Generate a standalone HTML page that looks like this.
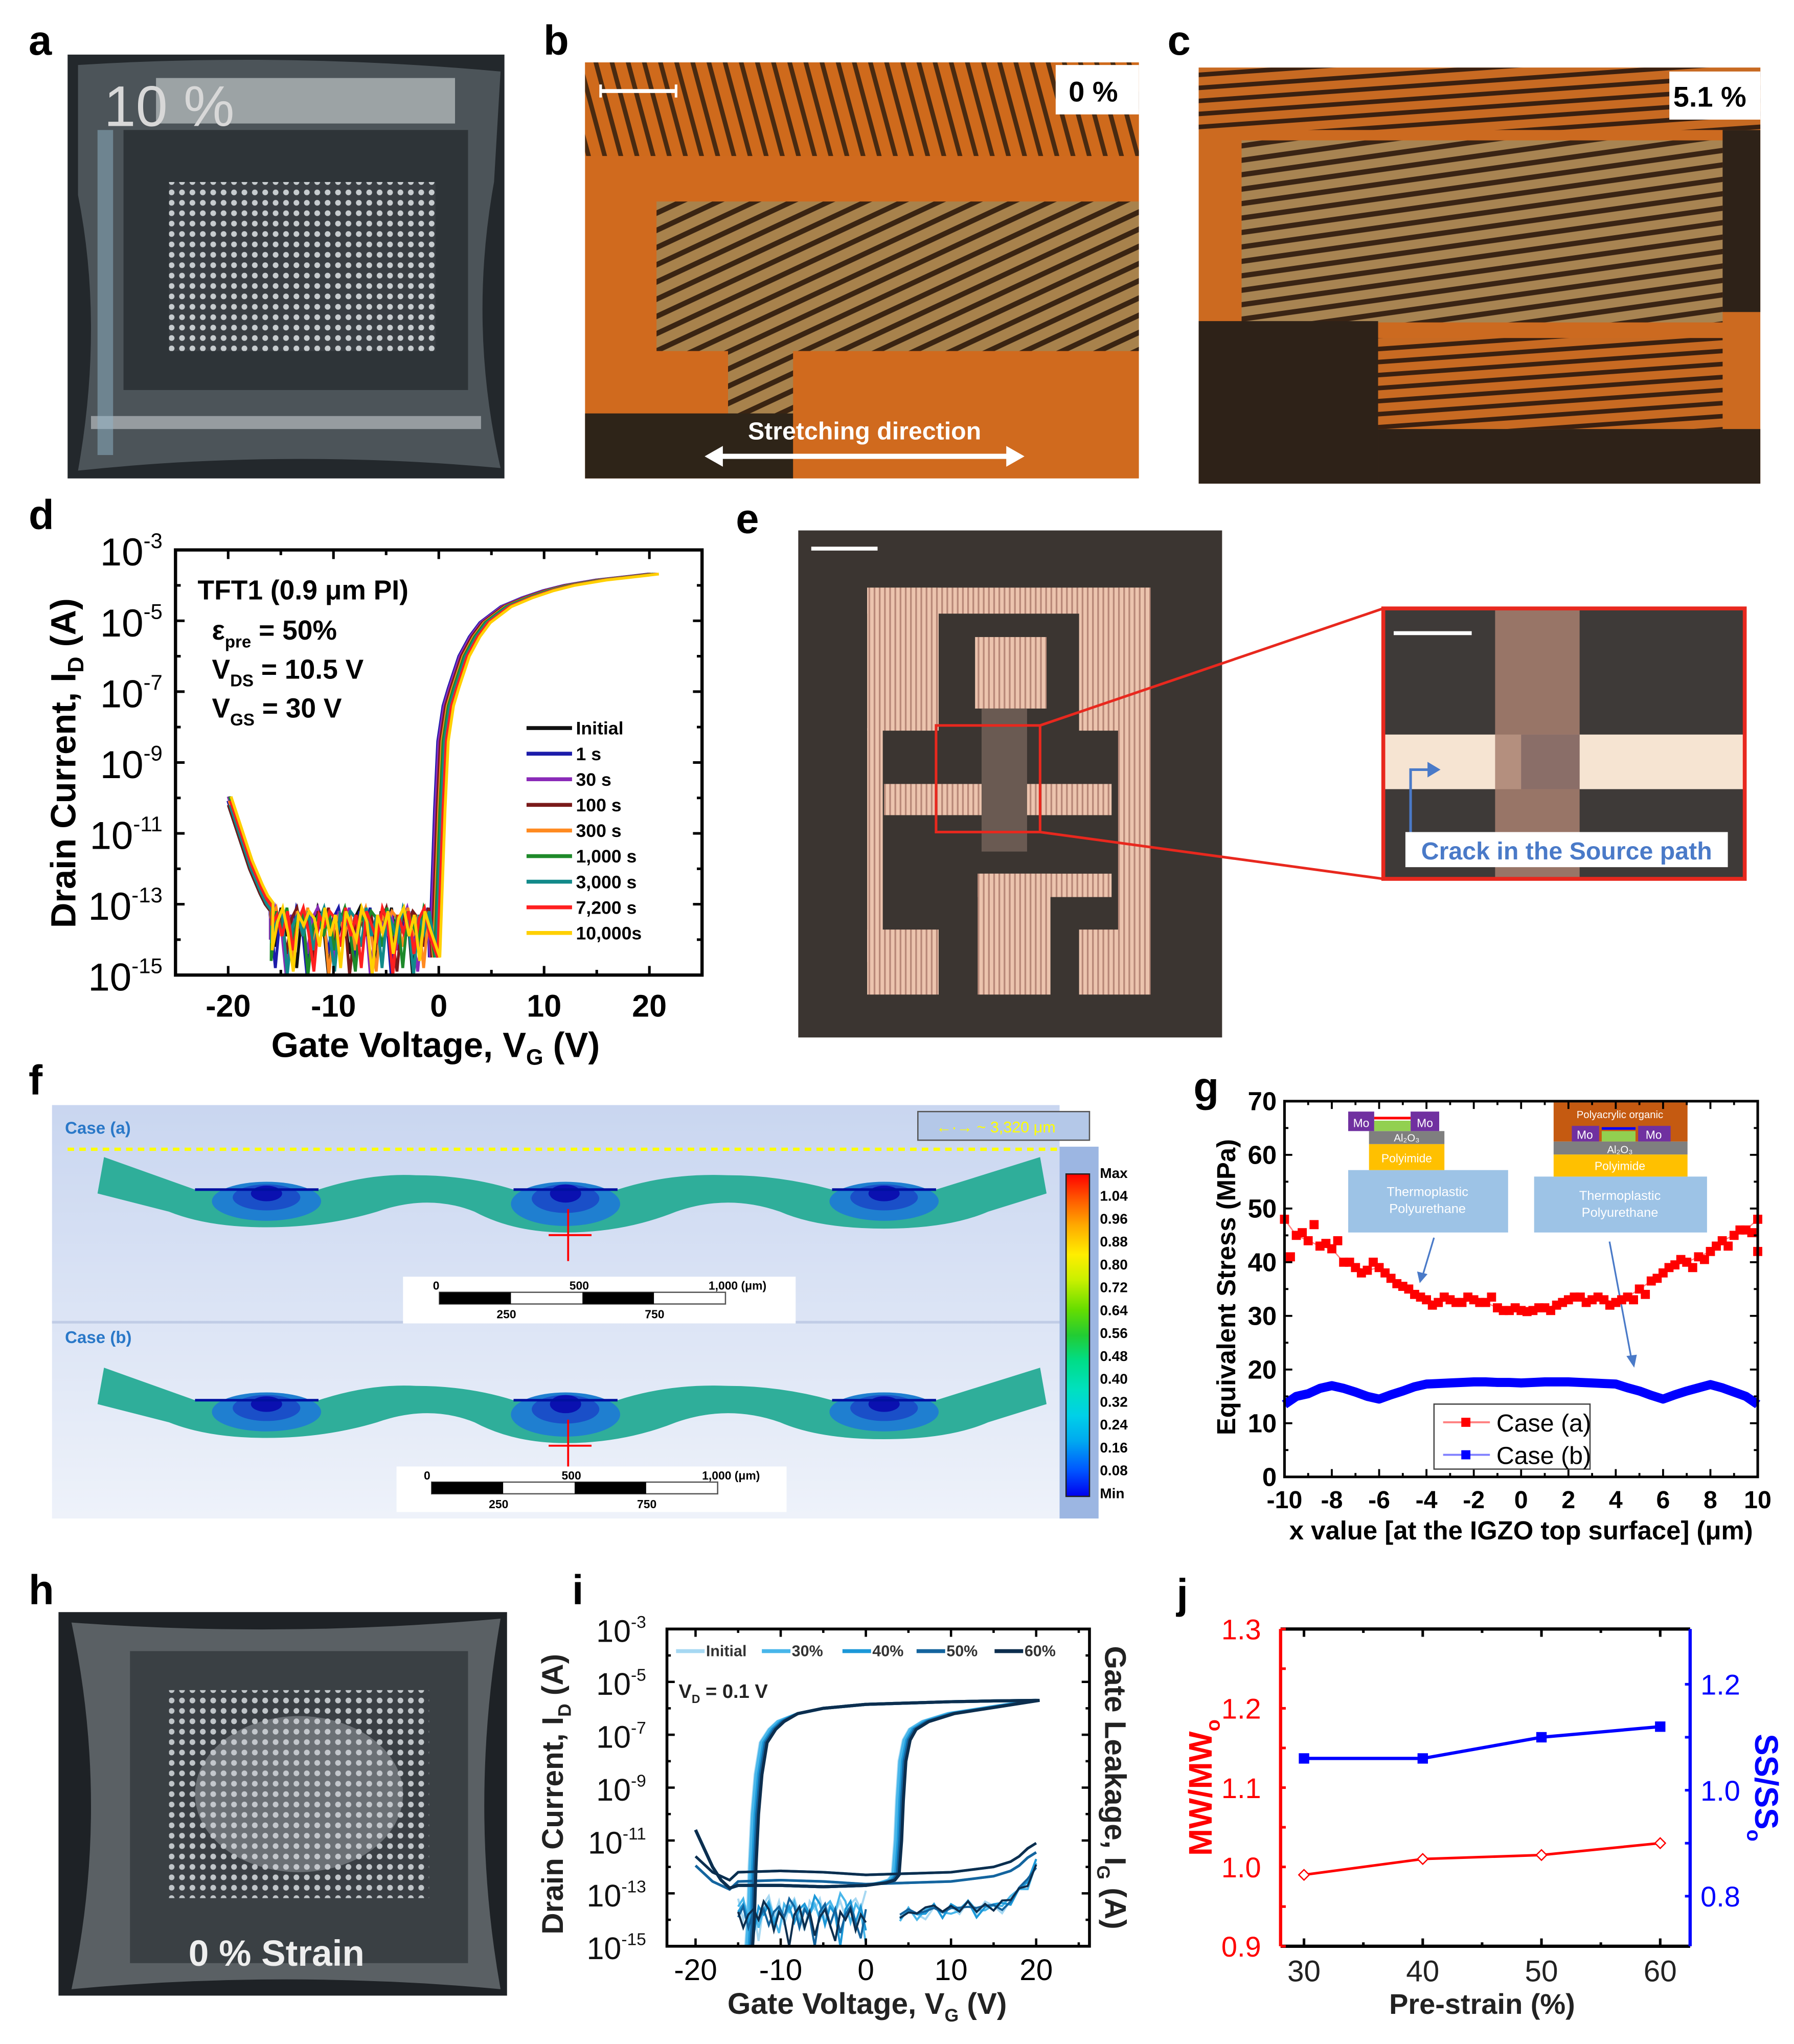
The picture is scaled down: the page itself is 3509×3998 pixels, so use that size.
<!DOCTYPE html>
<html><head><meta charset="utf-8"><style>
html,body{margin:0;padding:0;background:#fff;}
svg{display:block;font-family:"Liberation Sans",Arial,sans-serif;}
</style></head><body>
<svg id="fig" width="3509" height="3998" viewBox="0 0 1379.9 1572.2" preserveAspectRatio="none" xmlns="http://www.w3.org/2000/svg">
<defs>
<pattern id="gridPat" width="8" height="8" patternUnits="userSpaceOnUse"><rect width="8" height="8" fill="#3a3f44"/><circle cx="4" cy="4" r="2.2" fill="#d8dde0"/></pattern>
<pattern id="stripeB" width="12" height="12" patternUnits="userSpaceOnUse" patternTransform="rotate(-25)"><rect width="12" height="12" fill="#a8824c"/><rect y="0" width="12" height="4" fill="#3a2412"/></pattern>
<pattern id="stripeO" width="12" height="12" patternUnits="userSpaceOnUse" patternTransform="rotate(75)"><rect width="12" height="12" fill="#cf6a1c"/><rect width="12" height="3.5" fill="#4a2a10"/></pattern>
<pattern id="stripeC" width="12" height="11" patternUnits="userSpaceOnUse" patternTransform="rotate(-8)"><rect width="12" height="11" fill="#a88452"/><rect width="12" height="4" fill="#3a2414"/></pattern>
<pattern id="stripeC2" width="12" height="10" patternUnits="userSpaceOnUse" patternTransform="rotate(-4)"><rect width="12" height="10" fill="#c86a22"/><rect width="12" height="3.5" fill="#3a2010"/></pattern>
<pattern id="copper" width="4" height="4" patternUnits="userSpaceOnUse"><rect width="4" height="4" fill="#ecc4ae"/><rect width="1.3" height="4" fill="#b88878"/></pattern>
<linearGradient id="fbg" x1="0" y1="0" x2="0" y2="1"><stop offset="0" stop-color="#c9d6f0"/><stop offset="1" stop-color="#eef2fa"/></linearGradient>
<linearGradient id="cbar" x1="0" y1="0" x2="0" y2="1">
<stop offset="0" stop-color="#ff0000"/><stop offset="0.08" stop-color="#ff5a00"/><stop offset="0.16" stop-color="#ffaa00"/><stop offset="0.25" stop-color="#ffee00"/><stop offset="0.33" stop-color="#c8f000"/><stop offset="0.42" stop-color="#66dd00"/><stop offset="0.5" stop-color="#22cc33"/><stop offset="0.58" stop-color="#00dd88"/><stop offset="0.67" stop-color="#00e0c0"/><stop offset="0.75" stop-color="#00d0e8"/><stop offset="0.83" stop-color="#00a8f0"/><stop offset="0.92" stop-color="#0055ff"/><stop offset="1" stop-color="#0000ee"/></linearGradient>
</defs>

<g font-weight="bold" font-size="32" fill="#000">
<text x="22" y="42">a</text>
<text x="418" y="42">b</text>
<text x="898" y="42">c</text>
<text x="22" y="407">d</text>
<text x="566" y="410">e</text>
<text x="22" y="842">f</text>
<text x="918" y="847">g</text>
<text x="22" y="1234">h</text>
<text x="440" y="1234">i</text>
<text x="905" y="1237">j</text>
</g>

<g>
<rect x="52" y="42" width="336" height="326" fill="#23282c"/>
<path d="M60,50 Q220,40 385,55 L380,140 Q360,250 385,360 Q220,345 60,362 Q80,250 60,150 Z" fill="#4c5459"/>
<path d="M95,100 L360,100 L360,300 L95,300 Z" fill="#2e3438"/>
<rect x="130" y="140" width="205" height="130" fill="url(#gridPat)" opacity="0.9"/>
<rect x="120" y="60" width="230" height="35" fill="#bfc4c6" opacity="0.7"/>
<rect x="70" y="320" width="300" height="10" fill="#c8cdd0" opacity="0.6"/>
<rect x="75" y="100" width="12" height="250" fill="#8fb4c8" opacity="0.5"/>
<text x="80" y="97" font-size="44" fill="#d8d8d8">10 %</text>
</g>

<g>
<rect x="450" y="48" width="426" height="320" fill="#d06a1e"/>
<rect x="450" y="48" width="426" height="72" fill="url(#stripeO)"/>
<rect x="505" y="155" width="371" height="115" fill="url(#stripeB)"/>
<rect x="560" y="270" width="50" height="50" fill="url(#stripeB)"/>
<rect x="450" y="318" width="160" height="50" fill="#2e2418"/>
<rect x="812" y="50" width="64" height="38" fill="#fff"/>
<text x="822" y="78" font-size="22" font-weight="bold">0 %</text>
<line x1="462" y1="70" x2="520" y2="70" stroke="#fff" stroke-width="3"/>
<line x1="462" y1="65" x2="462" y2="75" stroke="#fff" stroke-width="2"/><line x1="520" y1="65" x2="520" y2="75" stroke="#fff" stroke-width="2"/>
<text x="665" y="338" font-size="19" font-weight="bold" fill="#fff" text-anchor="middle">Stretching direction</text>
<line x1="552" y1="351" x2="778" y2="351" stroke="#fff" stroke-width="4"/>
<path d="M542,351 L556,343 L556,359 Z M788,351 L774,343 L774,359 Z" fill="#fff"/>
</g>

<g>
<rect x="922" y="52" width="432" height="320" fill="#cc6a20"/>
<rect x="922" y="52" width="432" height="48" fill="url(#stripeC2)"/>
<rect x="955" y="108" width="370" height="140" fill="url(#stripeC)"/>
<rect x="1325" y="100" width="29" height="140" fill="#2e2218"/>
<rect x="922" y="247" width="138" height="125" fill="#2e2218"/>
<rect x="1060" y="260" width="265" height="70" fill="url(#stripeC2)"/>
<rect x="1060" y="330" width="294" height="42" fill="#2e2218"/>
<rect x="1284" y="55" width="70" height="37" fill="#fff"/>
<text x="1287" y="82" font-size="22" font-weight="bold">5.1 %</text>
</g>

<g>
<rect x="614" y="408" width="326" height="390" fill="#3b3531"/>
<g fill="url(#copper)">
<rect x="667" y="452" width="218" height="20"/>
<rect x="667" y="452" width="55" height="110"/>
<rect x="860" y="452" width="25" height="290"/>
<rect x="830" y="452" width="55" height="110"/>
<rect x="750" y="490" width="55" height="55"/>
<rect x="680" y="603" width="175" height="24"/>
<rect x="667" y="560" width="12" height="180"/>
<rect x="667" y="715" width="55" height="50"/>
<rect x="752" y="672" width="103" height="18"/>
<rect x="752" y="672" width="56" height="93"/>
<rect x="830" y="715" width="55" height="50"/>
</g>
<rect x="755" y="545" width="35" height="110" fill="#6a5a52"/>
<rect x="720" y="558" width="80" height="82" fill="none" stroke="#e8281e" stroke-width="2"/>
<line x1="800" y1="558" x2="1064" y2="468" stroke="#e8281e" stroke-width="2"/>
<line x1="800" y1="640" x2="1064" y2="676" stroke="#e8281e" stroke-width="2"/>
<line x1="624" y1="422" x2="675" y2="422" stroke="#fff" stroke-width="3"/>
</g>
<g>
<rect x="1064" y="468" width="278" height="208" fill="#3e3a38"/>
<rect x="1064" y="565" width="278" height="42" fill="#f6e4d2"/>
<rect x="1150" y="468" width="65" height="208" fill="#a88070" opacity="0.85"/>
<rect x="1170" y="565" width="45" height="42" fill="#8a6e68"/>
<rect x="1064" y="468" width="278" height="208" fill="none" stroke="#e8281e" stroke-width="3"/>
<line x1="1072" y1="487" x2="1132" y2="487" stroke="#fff" stroke-width="3"/>
<path d="M1085,640 L1085,592 L1100,592" fill="none" stroke="#4a7ac8" stroke-width="2"/><path d="M1108,592 L1098,586 L1098,598 Z" fill="#4a7ac8"/>
<rect x="1081" y="640" width="248" height="27" fill="#fff"/>
<text x="1205" y="661" font-size="19" font-weight="bold" fill="#4a7ac8" text-anchor="middle">Crack in the Source path</text>
</g>

<g>
<rect x="40" y="850" width="775" height="318" fill="url(#fbg)"/>
<line x1="40" y1="1017" x2="815" y2="1017" stroke="#c0cce6" stroke-width="2"/>
<text x="50" y="872" font-size="13" font-weight="bold" fill="#2a78c8">Case (a)</text>
<text x="50" y="1033" font-size="13" font-weight="bold" fill="#2a78c8">Case (b)</text>
<rect x="706" y="855" width="132" height="22" fill="#b4c8e8" stroke="#555" stroke-width="1"/>
<text x="720" y="871" font-size="12" fill="#ffff00">←·→ ~ 3,320 μm</text>
<line x1="52" y1="884" x2="838" y2="884" stroke="#ffff00" stroke-width="2.5" stroke-dasharray="5,4"/>
<g id="beamA">
<path d="M80,890 L150,915 L245,915 Q285,902 320,904 Q360,904 395,915 L475,915 Q515,902 560,904 Q600,904 640,915 L720,915 L800,890 L805,918 L760,932 Q730,945 680,945 Q630,945 600,932 Q560,918 520,932 Q480,948 435,948 Q395,948 365,932 Q330,918 290,932 Q250,944 205,944 Q160,944 130,932 L75,918 Z" fill="#2fae9a"/>
<ellipse cx="205" cy="924" rx="42" ry="15" fill="#1f7fd0"/><ellipse cx="205" cy="921" rx="26" ry="10" fill="#1a4fc8"/><ellipse cx="205" cy="918" rx="12" ry="6" fill="#0a10b0"/>
<ellipse cx="435" cy="926" rx="42" ry="17" fill="#1f7fd0"/><ellipse cx="435" cy="922" rx="26" ry="11" fill="#1a4fc8"/><ellipse cx="435" cy="918" rx="12" ry="7" fill="#0a10b0"/>
<ellipse cx="680" cy="924" rx="42" ry="15" fill="#1f7fd0"/><ellipse cx="680" cy="921" rx="26" ry="10" fill="#1a4fc8"/><ellipse cx="680" cy="918" rx="12" ry="6" fill="#0a10b0"/>
<line x1="150" y1="915" x2="245" y2="915" stroke="#0010a0" stroke-width="2"/><line x1="395" y1="915" x2="475" y2="915" stroke="#0010a0" stroke-width="2"/><line x1="640" y1="915" x2="720" y2="915" stroke="#0010a0" stroke-width="2"/>
<line x1="437" y1="930" x2="437" y2="970" stroke="#f00" stroke-width="1.5"/><line x1="422" y1="950" x2="455" y2="950" stroke="#f00" stroke-width="1.5"/>
</g>
<use href="#beamA" y="162"/>
<g>
<rect x="310" y="982" width="302" height="36" fill="#fff"/>
<rect x="338" y="994" width="220" height="9" fill="#fff" stroke="#555" stroke-width="1"/>
<rect x="338" y="994" width="55" height="9" fill="#000"/><rect x="448" y="994" width="55" height="9" fill="#000"/>
<text x="333" y="992" font-size="9" font-weight="bold">0</text><text x="438" y="992" font-size="9" font-weight="bold">500</text><text x="545" y="992" font-size="9" font-weight="bold">1,000 (μm)</text>
<text x="382" y="1014" font-size="9" font-weight="bold">250</text><text x="496" y="1014" font-size="9" font-weight="bold">750</text>
</g>
<g>
<rect x="305" y="1128" width="300" height="35" fill="#fff"/>
<rect x="332" y="1140" width="220" height="9" fill="#fff" stroke="#555" stroke-width="1"/>
<rect x="332" y="1140" width="55" height="9" fill="#000"/><rect x="442" y="1140" width="55" height="9" fill="#000"/>
<text x="326" y="1138" font-size="9" font-weight="bold">0</text><text x="432" y="1138" font-size="9" font-weight="bold">500</text><text x="540" y="1138" font-size="9" font-weight="bold">1,000 (μm)</text>
<text x="376" y="1160" font-size="9" font-weight="bold">250</text><text x="490" y="1160" font-size="9" font-weight="bold">750</text>
</g>
<rect x="815" y="882" width="30" height="286" fill="#9cb6e2"/>
<rect x="820" y="903" width="18" height="248" fill="url(#cbar)" stroke="#222" stroke-width="1"/>
<g id="cbLabels" font-size="11" font-weight="bold"></g>
</g>

<g>
<rect x="45" y="1240" width="345" height="295" fill="#1e2226"/>
<path d="M55,1248 Q220,1260 385,1245 Q360,1390 385,1530 Q220,1515 55,1530 Q85,1390 55,1248 Z" fill="#5a6064"/>
<rect x="100" y="1270" width="260" height="240" fill="#3a4044"/>
<rect x="130" y="1300" width="200" height="160" fill="url(#gridPat)" opacity="0.85"/>
<ellipse cx="230" cy="1380" rx="80" ry="60" fill="#c8ccd0" opacity="0.35"/>
<text x="145" y="1512" font-size="28" font-weight="bold" fill="#eee">0 % Strain</text>
</g>

<g id="chartD"></g>
<g id="chartG"></g>
<g id="chartI"></g>
<g id="chartJ"></g>
</svg>
<script>
const dSeriesNames = ["Initial","1 s","30 s","100 s","300 s","1,000 s","3,000 s","7,200 s","10,000s"];
const dSeriesColors = ["#111111","#1c1caa","#8a2ab8","#7a1a1a","#ff8a20","#1e8a2a","#128a8a","#ff2020","#ffd000"];
const dShift = [0.05,-0.1,0.0,0.15,0.3,0.4,0.55,0.7,0.9];
const dVgOff = [-20,-19,-18,-17,-16.5,-16];
const dLogOff = [-10.2,-11.1,-12.0,-12.7,-13.0,-13.2];
const dVgOn = [-0.8,-0.6,-0.3,0,0.5,1,2,3,4,6,8,10,12,15,18,20];
const dLogOn = [-14.5,-12.8,-10.3,-8.4,-7.4,-6.9,-6.0,-5.45,-5.05,-4.6,-4.35,-4.15,-4.0,-3.85,-3.75,-3.68];
const dNoise = [-13.4,-14.2,-13.1,-13.9,-13.3,-14.8,-13.2,-13.6,-14.0,-13.1,-13.5,-15.0,-13.3,-13.8,-13.2,-14.4,-13.4,-13.1,-13.9,-13.3,-14.6,-13.2,-13.7,-13.1,-14.1,-13.4,-13.2,-15.0,-13.6,-13.3,-13.9,-13.2,-14.3,-13.5,-13.1,-13.8,-14.9,-13.3,-13.6,-13.2];
const dYTicks = [-3,-5,-7,-9,-11,-13,-15];
const dXTicks = [-20,-10,0,10,20];

const gX = [-10,-9.5,-9,-8.5,-8,-7.5,-7,-6.5,-6,-5.5,-5,-4.5,-4,-3.5,-3,-2.5,-2,-1.5,-1,-0.5,0,0.5,1,1.5,2,2.5,3,3.5,4,4.5,5,5.5,6,6.5,7,7.5,8,8.5,9,9.5,10];
const gCaseA = [48,45,44,43,42.5,40,39,38.5,39,37,35.5,34,33,32.5,33,32.5,33,32.5,31.5,31,31,31,31.5,32,33,33.5,33,33,32.5,33.5,35,36.5,38,39.5,40,41,42,44,45,46,48];
const gCaseA2 = [41,45.5,47,43.5,44,40,38,40,38,36,35,33.5,32,33.5,32.5,33.5,32.5,33.5,31,31.5,30.8,31.5,31,32.5,33.5,32.5,33.5,32,33,33,34,37,39,40.5,39,40.5,43,43,46,45.5,42];
const gCaseB = [13.5,15,15.5,16.5,17,16.5,15.8,15,14.5,15.3,16,16.8,17.3,17.4,17.5,17.6,17.7,17.7,17.6,17.6,17.5,17.6,17.7,17.7,17.7,17.6,17.5,17.4,17.3,16.6,16,15.2,14.5,15.3,16,16.6,17.2,16.6,15.8,15,13.5];
const gYTicks = [0,10,20,30,40,50,60,70];
const gXTicks = [-10,-8,-6,-4,-2,0,2,4,6,8,10];

const iSeriesNames = ["Initial","30%","40%","50%","60%"];
const iColors = ["#a6d8f2","#48b6ea","#1c98d8","#14649e","#0c2e4e"];
const iShiftOn = [-0.4,-0.3,0,0.2,0.4];
const iFwdVg = [-20,-19,-18,-17,-16,-15,-10,-5,0,2,3,3.5,3.8,4,4.3,4.8,5.5,7,10,15,20];
const iFwdLog = [-10.6,-11.3,-12.0,-12.5,-12.8,-12.7,-12.7,-12.75,-12.7,-12.6,-12.5,-12.3,-11.0,-9.5,-8.0,-7.2,-6.8,-6.5,-6.2,-5.95,-5.7];
const iBwdVg = [20,15,10,5,0,-5,-8,-10,-11,-12,-12.6,-13,-13.3,-13.5,-13.7];
const iBwdLog = [-5.7,-5.72,-5.75,-5.8,-5.85,-6.0,-6.2,-6.5,-6.8,-7.3,-8.5,-10,-12,-14,-15];
const iLeakVg = [-20,-18,-16,-15,-10,-5,0,5,10,15,17,18,19,20];
const iLeakLog = [-11.6,-12.2,-12.5,-12.2,-12.15,-12.2,-12.3,-12.25,-12.2,-12.0,-11.8,-11.6,-11.3,-11.1];
const iRetVg = [20,19,18,17,16,15,14,13,12,11,10,9,8,7,6,5,4];
const iRetLog = [-11.1,-12.0,-12.6,-13.1,-13.3,-13.5,-13.4,-13.7,-13.3,-13.6,-13.5,-13.9,-13.4,-13.8,-14.0,-13.6,-14.2];
const iNoise = [-13.2,-14.0,-13.3,-13.6,-14.8,-13.4,-13.1,-13.9,-13.3,-14.2,-13.5,-13.2,-13.8,-14.4,-13.3,-13.6,-13.2,-14.0,-13.4,-13.7,-13.3,-13.9,-13.4,-13.2,-13.6,-12.9];
const iYTicks = [-3,-5,-7,-9,-11,-13,-15];
const iXTicks = [-20,-10,0,10,20];

const jX = [30,40,50,60];
const jMW = [0.99,1.01,1.015,1.03];
const jSS = [1.06,1.06,1.10,1.12];
const jLeftTicks = [0.9,1.0,1.1,1.2,1.3];
const jRightTicks = [0.8,1.0,1.2];
const jXTicks = [30,40,50,60];

const cbTicks = ["Max","1.04","0.96","0.88","0.80","0.72","0.64","0.56","0.48","0.40","0.32","0.24","0.16","0.08","Min"];

const NS="http://www.w3.org/2000/svg";
function mk(parent,tag,attrs,txt){const e=document.createElementNS(NS,tag);for(const k in attrs)e.setAttribute(k,attrs[k]);if(txt!==undefined)e.textContent=txt;parent.appendChild(e);return e;}
function pathOf(xs,ys,fx,fy){return xs.map((x,i)=>(i?'L':'M')+fx(x).toFixed(2)+','+fy(ys[i]).toFixed(2)).join(' ');}
function pow10(parent,x,y,exp,size,anchor,fill){const t=mk(parent,'text',{x:x,y:y,'font-size':size,'text-anchor':anchor||'end',fill:fill||'#000'});t.appendChild(document.createTextNode('10'));const s=document.createElementNS(NS,'tspan');s.setAttribute('dy',-size*0.45);s.setAttribute('font-size',size*0.55);s.textContent=exp;t.appendChild(s);return t;}

(function(){const g=document.getElementById('cbLabels');cbTicks.forEach((t,i)=>{const e=mk(g,'text',{x:846,y:906+i*17.6},t);

});})();

(function(){
const g=document.getElementById('chartD');
const L=135,R=540,T=423,B=750;
const fx=v=>L+(v+25)/50*(R-L), fy=l=>T+(-3-l)/12*(B-T);
dSeriesNames.forEach((n,si)=>{
  const sh=dShift[si];
  const xs=[],ys=[];
  dVgOff.forEach((v,i)=>{xs.push(v+sh*0.3);ys.push(dLogOff[i]+(si%3)*0.12);});
  for(let k=0;k<31;k++){xs.push(-16+k*0.5+sh*0.2);ys.push(dNoise[(k+si*4)%dNoise.length]);}
  dVgOn.forEach((v,i)=>{xs.push(v+sh);ys.push(Math.max(-15,dLogOn[i]));});
  const p=mk(g,'path',{d:pathOf(xs,ys,fx,v=>fy(Math.max(-15,v))),fill:'none',stroke:dSeriesColors[si],'stroke-width':2.2});
  
  
  const ly=560+si*19.7;
  const ll=mk(g,'line',{x1:405,y1:ly,x2:440,y2:ly,stroke:dSeriesColors[si],'stroke-width':3});
  
  
  const lt=mk(g,'text',{x:443,y:ly+5,'font-size':14,'font-weight':'bold'},n);
  
  
});
const fr=mk(g,'rect',{x:L,y:T,width:R-L,height:B-T,fill:'none',stroke:'#000','stroke-width':2.5});


for(let d=-3;d>=-15;d--){const y=fy(d);const len=(d%2)?7:4;mk(g,'line',{x1:L,y1:y,x2:L+len,y2:y,stroke:'#000','stroke-width':2});mk(g,'line',{x1:R,y1:y,x2:R-len,y2:y,stroke:'#000','stroke-width':2});}
dYTicks.forEach(d=>{const t=pow10(g,125,fy(d)+12,String(d),30,'end');

});
for(let v=-25;v<=25;v+=5){const x=fx(v);const len=(v%10===0)?7:4;mk(g,'line',{x1:x,y1:B,x2:x,y2:B-len,stroke:'#000','stroke-width':2});mk(g,'line',{x1:x,y1:T,x2:x,y2:T+len,stroke:'#000','stroke-width':2});}
dXTicks.forEach(v=>{const t=mk(g,'text',{x:fx(v),y:782,'font-size':24,'font-weight':'bold','text-anchor':'middle'},String(v));

});
const xt=mk(g,'text',{x:335,y:813,'font-size':27,'font-weight':'bold','text-anchor':'middle'},'Gate Voltage, V');
const s1=document.createElementNS(NS,'tspan');s1.setAttribute('font-size',17);s1.setAttribute('dy',6);s1.textContent='G';xt.appendChild(s1);
const s2=document.createElementNS(NS,'tspan');s2.setAttribute('dy',-6);s2.textContent=' (V)';xt.appendChild(s2);


const yt=mk(g,'text',{x:0,y:0,'font-size':27,'font-weight':'bold','text-anchor':'middle',transform:'translate(58,587) rotate(-90)'},'Drain Current, I');
const s3=document.createElementNS(NS,'tspan');s3.setAttribute('font-size',17);s3.setAttribute('dy',6);s3.textContent='D';yt.appendChild(s3);
const s4=document.createElementNS(NS,'tspan');s4.setAttribute('dy',-6);s4.textContent=' (A)';yt.appendChild(s4);


const a=mk(g,'text',{x:152,y:461,'font-size':21,'font-weight':'bold'},'TFT1 (0.9 μm PI)');


function sub(x,y,m,s,r){const t=mk(g,'text',{x:x,y:y,'font-size':21,'font-weight':'bold'},m);const u=document.createElementNS(NS,'tspan');u.setAttribute('font-size',13);u.setAttribute('dy',6);u.textContent=s;t.appendChild(u);const w=document.createElementNS(NS,'tspan');w.setAttribute('dy',-6);w.textContent=r;t.appendChild(w);

}
sub(163,492,'ε','pre',' = 50%');sub(163,522,'V','DS',' = 10.5 V');sub(163,552,'V','GS',' = 30 V');
})();

(function(){
const g=document.getElementById('chartG');
const L=988,R=1352,T=847,B=1136;
const fx=v=>L+(v+10)/20*(R-L), fy=v=>B-v/70*(B-T);
const ins=[[1037,900,123,48,'#9dc3e6'],[1053,880,58,20,'#ffc000'],[1053,870,58,10,'#7f7f7f'],[1037,855,20,15,'#7030a0'],[1085,855,22,15,'#7030a0'],[1057,862,28,8,'#92d050'],
[1180,905,133,43,'#9dc3e6'],[1195,888,103,17,'#ffc000'],[1195,878,103,10,'#7f7f7f'],[1195,848,103,30,'#c55a11'],[1209,866,21,12,'#7030a0'],[1260,866,25,12,'#7030a0'],[1232,870,26,8,'#92d050']];
ins.forEach(r=>{const e=mk(g,'rect',{x:r[0],y:r[1],width:r[2],height:r[3],fill:r[4]});

});
mk(g,'line',{x1:1057,y1:860,x2:1085,y2:860,stroke:'#ff0000','stroke-width':2});
mk(g,'line',{x1:1232,y1:868,x2:1258,y2:868,stroke:'#0000ff','stroke-width':2});
[['Mo',1047,867,9],['Mo',1096,867,9],['Al₂O₃',1082,878,8],['Polyimide',1082,894,9],['Thermoplastic',1098,920,10],['Polyurethane',1098,933,10],
 ['Polyacrylic organic',1246,860,8],['Mo',1219,876,9],['Mo',1272,876,9],['Al₂O₃',1246,887,8],['Polyimide',1246,900,9],['Thermoplastic',1246,923,10],['Polyurethane',1246,936,10]].forEach(l=>{
 const t=mk(g,'text',{x:l[1],y:l[2],'font-size':l[3],fill:'#fff','text-anchor':'middle'},l[0]);
 
 });
mk(g,'line',{x1:1103,y1:952,x2:1094,y2:982,stroke:'#4a7ac8','stroke-width':1.3});
mk(g,'path',{d:'M1092,987 L1090,978 L1098,980 Z',fill:'#4a7ac8'});
mk(g,'line',{x1:1238,y1:955,x2:1255,y2:1046,stroke:'#4a7ac8','stroke-width':1.3});
mk(g,'path',{d:'M1257,1052 L1251,1043 L1259,1042 Z',fill:'#4a7ac8'});
const pa=mk(g,'path',{d:pathOf(gX,gCaseA,fx,fy),fill:'none',stroke:'#ff8080','stroke-width':1});


gX.forEach((x,i)=>{[gCaseA[i],gCaseA2[i]].forEach((v,k)=>{
  const r=mk(g,'rect',{x:fx(Math.min(10,x+k*0.25))-3.5,y:fy(v)-3.5,width:7,height:7,fill:'#ff0000'});
  
  });});
const pb=mk(g,'path',{d:pathOf(gX,gCaseB,fx,fy),fill:'none',stroke:'#0000ff','stroke-width':7,'stroke-linejoin':'round'});


const fr=mk(g,'rect',{x:L,y:T,width:R-L,height:B-T,fill:'none',stroke:'#000','stroke-width':2});


for(let v=0;v<=70;v+=5){const y=fy(v),len=v%10?3:6;mk(g,'line',{x1:L,y1:y,x2:L+len,y2:y,stroke:'#000','stroke-width':1.5});mk(g,'line',{x1:R,y1:y,x2:R-len,y2:y,stroke:'#000','stroke-width':1.5});}
for(let v=-10;v<=10;v+=1){const x=fx(v),len=v%2?3:6;mk(g,'line',{x1:x,y1:B,x2:x,y2:B-len,stroke:'#000','stroke-width':1.5});mk(g,'line',{x1:x,y1:T,x2:x,y2:T+len,stroke:'#000','stroke-width':1.5});}
gYTicks.forEach(v=>{const t=mk(g,'text',{x:982,y:fy(v)+7,'font-size':20,'font-weight':'bold','text-anchor':'end'},String(v));

});
gXTicks.forEach(v=>{const t=mk(g,'text',{x:fx(v),y:1160,'font-size':19,'font-weight':'bold','text-anchor':'middle'},String(v));

});
const xt=mk(g,'text',{x:1170,y:1184,'font-size':20,'font-weight':'bold','text-anchor':'middle'},'x value [at the IGZO top surface] (μm)');


const yt=mk(g,'text',{x:0,y:0,'font-size':20,'font-weight':'bold','text-anchor':'middle',transform:'translate(950,990) rotate(-90)'},'Equivalent Stress (MPa)');


const lg=mk(g,'rect',{x:1103,y:1080,width:120,height:50,fill:'#fff',stroke:'#444','stroke-width':1});


[['Case (a)','#ff0000','#ff8080',1094],['Case (b)','#0000ff','#8080ff',1119]].forEach(l=>{
 mk(g,'line',{x1:1110,y1:l[3],x2:1146,y2:l[3],stroke:l[2],'stroke-width':1.5});
 mk(g,'rect',{x:1124,y:l[3]-3.5,width:7,height:7,fill:l[1]});
 const t=mk(g,'text',{x:1151,y:l[3]+7,'font-size':19},l[0]);
 
 });
})();

(function(){
const g=document.getElementById('chartI');
const L=513,R=838,T=1253,B=1497;
const fx=v=>666+v*6.55, fy=l=>T+(-3-Math.max(-15,l))/12*(B-T);
iSeriesNames.forEach((n,si)=>{
  const sh=iShiftOn[si], c=iColors[si];
  const fxs=iFwdVg.map(v=>v>1?v+sh:v), bxs=iBwdVg.map(v=>v<-9?v+sh:v);
  const p1=mk(g,'path',{d:pathOf(fxs,iFwdLog,fx,fy)+' '+pathOf(bxs,iBwdLog,fx,fy).replace('M','L'),fill:'none',stroke:c,'stroke-width':2.4});
  
  
  const ll=iLeakLog.map(v=>v-(si%2)*0.35);
  const p2=mk(g,'path',{d:pathOf(iLeakVg,ll,fx,fy),fill:'none',stroke:c,'stroke-width':2});
  
  
  const rx=iRetVg.slice(), ry=iRetLog.map((v,k)=>iNoise[(k+si*3)%iNoise.length]*0.3+v*0.7);
  const p3=mk(g,'path',{d:pathOf(rx,ry,fx,fy),fill:'none',stroke:c,'stroke-width':1.6});
  
  
  const nx=[],ny=[];for(let k=0;k<iNoise.length;k++){nx.push(-15+k*0.6);ny.push(iNoise[(k+si*5)%iNoise.length]-0.1*si);}
  const p4=mk(g,'path',{d:pathOf(nx,ny,fx,fy),fill:'none',stroke:c,'stroke-width':1.6});
  
  
  const lx=[520,586,648,705,765][si];
  mk(g,'line',{x1:lx,y1:1270,x2:lx+22,y2:1270,stroke:c,'stroke-width':3});
  const t=mk(g,'text',{x:lx+23,y:1274,'font-size':12,'font-weight':'bold',fill:'#333'},n);
  
  
});
const fr=mk(g,'rect',{x:L,y:T,width:R-L,height:B-T,fill:'none',stroke:'#000','stroke-width':2.2});


for(let d=-3;d>=-15;d--){const y=fy(d),len=d%2?6:3;mk(g,'line',{x1:L,y1:y,x2:L+len,y2:y,stroke:'#000','stroke-width':1.8});mk(g,'line',{x1:R,y1:y,x2:R-len,y2:y,stroke:'#000','stroke-width':1.8});}
for(let v=-20;v<=25;v+=5){const x=fx(v);if(x>R)continue;const len=v%10?3:6;mk(g,'line',{x1:x,y1:B,x2:x,y2:B-len,stroke:'#000','stroke-width':1.8});mk(g,'line',{x1:x,y1:T,x2:x,y2:T+len,stroke:'#000','stroke-width':1.8});}
iYTicks.forEach(d=>{const t=pow10(g,497,fy(d)+10,String(d),24,'end','#111');

});
iXTicks.forEach(v=>{const t=mk(g,'text',{x:fx(v),y:1523,'font-size':23,'text-anchor':'middle'},String(v));

});
function title(x,y,m,s,rot){const t=mk(g,'text',{x:0,y:0,'font-size':23,'font-weight':'bold','text-anchor':'middle',transform:'translate('+x+','+y+')'+(rot?' rotate('+rot+')':''),fill:'#222'},m);const u=document.createElementNS(NS,'tspan');u.setAttribute('font-size',14);u.setAttribute('dy',6);u.textContent=s;t.appendChild(u);const w=document.createElementNS(NS,'tspan');w.setAttribute('dy',-6);w.textContent=' (A)';t.appendChild(w);return t;}
const xt=mk(g,'text',{x:667,y:1549,'font-size':23,'font-weight':'bold','text-anchor':'middle',fill:'#222'},'Gate Voltage, V');
const u=document.createElementNS(NS,'tspan');u.setAttribute('font-size',14);u.setAttribute('dy',6);u.textContent='G';xt.appendChild(u);
const w=document.createElementNS(NS,'tspan');w.setAttribute('dy',-6);w.textContent=' (V)';xt.appendChild(w);


const yl=title(433,1380,'Drain Current, I','D',-90);


const yr=title(850,1375,'Gate Leakage, I','G',90);


const vd=mk(g,'text',{x:522,y:1306,'font-size':15,'font-weight':'bold',fill:'#222'},'V');
const a=document.createElementNS(NS,'tspan');a.setAttribute('font-size',9);a.setAttribute('dy',4);a.textContent='D';vd.appendChild(a);
const b=document.createElementNS(NS,'tspan');b.setAttribute('dy',-4);b.textContent=' = 0.1 V';vd.appendChild(b);


})();

(function(){
const g=document.getElementById('chartJ');
const L=985,R=1300,T=1253,B=1497;
const fx=v=>1003+(v-30)*9.133, fyL=v=>B-(v-0.9)/0.4*(B-T), fyR=v=>1377-(v-1.0)/0.2*81.5;
const pm=mk(g,'path',{d:pathOf(jX,jMW,fx,fyL),fill:'none',stroke:'#ff0000','stroke-width':2});


jX.forEach((x,i)=>{const cx=fx(x),cy=fyL(jMW[i]);const d=mk(g,'path',{d:`M${cx-4},${cy} L${cx},${cy-4} L${cx+4},${cy} L${cx},${cy+4} Z`,fill:'#fff',stroke:'#ff0000','stroke-width':1});

});
const ps=mk(g,'path',{d:pathOf(jX,jSS,fx,fyR),fill:'none',stroke:'#0000ff','stroke-width':2.5});


jX.forEach((x,i)=>{const r=mk(g,'rect',{x:fx(x)-4,y:fyR(jSS[i])-4,width:8,height:8,fill:'#0000ff'});

});
mk(g,'line',{x1:L,y1:T,x2:R,y2:T,stroke:'#000','stroke-width':2.5});
mk(g,'line',{x1:L,y1:B,x2:R,y2:B,stroke:'#000','stroke-width':2.5});
const la=mk(g,'line',{x1:L,y1:T,x2:L,y2:B,stroke:'#ff0000','stroke-width':2.5});


const ra=mk(g,'line',{x1:R,y1:T,x2:R,y2:B,stroke:'#0000ff','stroke-width':2.5});


for(let v=0.9;v<=1.301;v+=0.05){const y=fyL(v);mk(g,'line',{x1:L,y1:y,x2:L+4,y2:y,stroke:'#ff0000','stroke-width':2});}
for(let v=0.8;v<=1.21;v+=0.1){const y=fyR(v);mk(g,'line',{x1:R,y1:y,x2:R-4,y2:y,stroke:'#0000ff','stroke-width':2});}
for(let v=30;v<=60;v+=5){const x=fx(v);mk(g,'line',{x1:x,y1:B,x2:x,y2:B-(v%10?3:6),stroke:'#000','stroke-width':2});mk(g,'line',{x1:x,y1:T,x2:x,y2:T+(v%10?3:6),stroke:'#000','stroke-width':2});}
jLeftTicks.forEach(v=>{const t=mk(g,'text',{x:970,y:fyL(v)+8,'font-size':22,fill:'#ff0000','text-anchor':'end'},v.toFixed(1));

});
jRightTicks.forEach(v=>{const t=mk(g,'text',{x:1308,y:fyR(v)+8,'font-size':22,fill:'#0000ff'},v.toFixed(1));

});
jXTicks.forEach(v=>{const t=mk(g,'text',{x:fx(v),y:1524,'font-size':23,'text-anchor':'middle',fill:'#222'},String(v));

});
const xt=mk(g,'text',{x:1140,y:1549,'font-size':22,'font-weight':'bold','text-anchor':'middle',fill:'#222'},'Pre-strain (%)');


const yl=mk(g,'text',{x:0,y:0,'font-size':25,'font-weight':'bold','text-anchor':'middle',fill:'#ff0000',transform:'translate(932,1375) rotate(-90)'},'MW/MW');
const s=document.createElementNS(NS,'tspan');s.setAttribute('font-size',15);s.setAttribute('dy',6);s.textContent='o';yl.appendChild(s);


const yr=mk(g,'text',{x:0,y:0,'font-size':25,'font-weight':'bold','text-anchor':'middle',fill:'#0000ff',transform:'translate(1350,1375) rotate(90)'},'SS/SS');
const s2=document.createElementNS(NS,'tspan');s2.setAttribute('font-size',15);s2.setAttribute('dy',6);s2.textContent='o';yr.appendChild(s2);


})();
</script>
</body></html>
